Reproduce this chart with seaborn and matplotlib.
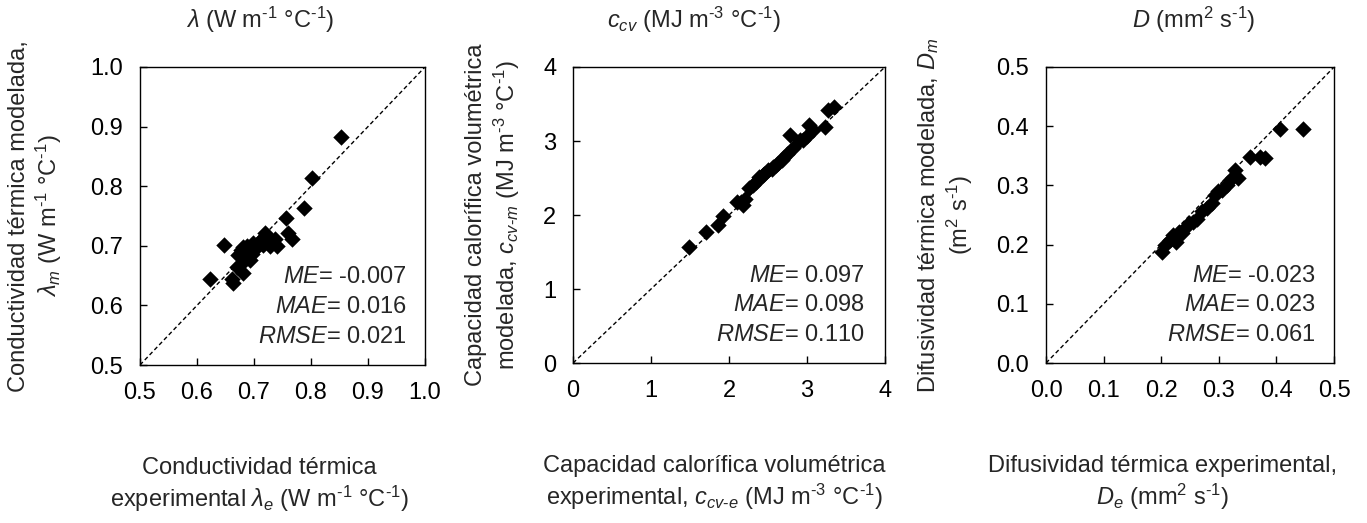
import pandas as pd
import matplotlib
matplotlib.use("Agg")
import matplotlib.pyplot as plt
import seaborn as sns

# Conductividad térmica (W m-1 °C-1): experimental vs modelada
lam_exp = [0.623, 0.648, 0.664, 0.662, 0.670, 0.681, 0.676, 0.672, 0.678, 0.680,
           0.687, 0.690, 0.693, 0.696, 0.700, 0.703, 0.705, 0.708, 0.712, 0.714,
           0.716, 0.719, 0.722, 0.725, 0.728, 0.732, 0.740, 0.736, 0.757, 0.760,
           0.766, 0.787, 0.801, 0.852, 0.685, 0.698]
lam_mod = [0.645, 0.701, 0.637, 0.645, 0.665, 0.654, 0.668, 0.685, 0.693, 0.698,
           0.699, 0.688, 0.676, 0.687, 0.693, 0.700, 0.699, 0.706, 0.710, 0.710,
           0.702, 0.721, 0.715, 0.712, 0.699, 0.706, 0.699, 0.712, 0.746, 0.721,
           0.711, 0.764, 0.813, 0.882, 0.683, 0.705]

# Capacidad calorífica volumétrica (MJ m-3 °C-1)
ccv_exp = [1.49, 1.70, 1.86, 1.92, 2.10, 2.18, 2.15, 2.20, 2.25, 2.31, 2.35, 2.38,
           2.44, 2.45, 2.50, 2.55, 2.57, 2.60, 2.63, 2.68, 2.70, 2.74, 2.78, 2.82,
           2.91, 2.95, 3.00, 3.02, 3.08, 3.23, 3.27, 3.34]
ccv_mod = [1.57, 1.77, 1.86, 1.99, 2.17, 2.13, 2.18, 2.22, 2.36, 2.40, 2.45, 2.52,
           2.54, 2.55, 2.61, 2.62, 2.65, 2.67, 2.70, 2.74, 2.78, 2.83, 3.08, 2.90,
           3.01, 3.02, 3.07, 3.22, 3.15, 3.19, 3.42, 3.46]

# Difusividad térmica (mm2 s-1)
dif_exp = [0.201, 0.207, 0.215, 0.221, 0.227, 0.230, 0.236, 0.239, 0.256, 0.262,
           0.270, 0.279, 0.288, 0.293, 0.305, 0.314, 0.319, 0.328, 0.334, 0.354,
           0.372, 0.380, 0.407, 0.446, 0.225, 0.248, 0.298]
dif_mod = [0.188, 0.200, 0.208, 0.216, 0.213, 0.222, 0.219, 0.227, 0.238, 0.244,
           0.256, 0.261, 0.270, 0.284, 0.292, 0.301, 0.309, 0.326, 0.312, 0.348,
           0.348, 0.347, 0.396, 0.395, 0.205, 0.236, 0.290]

stats = [("-0.007", "0.016", "0.021"), ("0.097", "0.098", "0.110"), ("-0.023", "0.023", "0.061")]

FS = 17

sns.set_style("ticks")
plt.rcParams["font.family"] = ["Liberation Sans", "DejaVu Sans"]
plt.rcParams["mathtext.fontset"] = "custom"
plt.rcParams["mathtext.rm"] = "Liberation Sans"
plt.rcParams["mathtext.it"] = "Liberation Sans:italic"
plt.rcParams["font.size"] = FS

fig = plt.figure(figsize=(13.67, 5.23), dpi=100)

m1 = r"m$^{\text{-1}}$ °C$^{\text{-1}}$"
m3 = r"m$^{\text{-3}}$ °C$^{\text{-1}}$"
s1 = r"$^{\text{2}}$ s$^{\text{-1}}$"

panels = [
    dict(x=lam_exp, y=lam_mod, lim=(0.5, 1.0), ticks=[0.5, 0.6, 0.7, 0.8, 0.9, 1.0], fmt="{:.1f}",
         pos=[0.1024, 0.3021, 0.2085, 0.5698],
         title=r"$\lambda$ (W " + m1 + ")", tx=0.190,
         ylabel="Conductividad térmica modelada,\n" + r"$\lambda_m$ (W " + m1 + ")", ylx=-0.265,
         xlabel="Conductividad térmica\nexperimental " + r"$\lambda_e$ (W " + m1 + ")", xlx=0.42),
    dict(x=ccv_exp, y=ccv_mod, lim=(0, 4), ticks=[0, 1, 2, 3, 4], fmt="{:.0f}",
         pos=[0.4192, 0.3059, 0.2282, 0.566],
         title=r"$c_{cv}$ (MJ " + m3 + ")", tx=0.508,
         ylabel="Capacidad calorífica volumétrica\nmodelada, " + r"$c_{cv\text{-}m}$ (MJ " + m3 + ")", ylx=-0.165,
         xlabel="Capacidad calorífica volumétrica\nexperimental, " + r"$c_{cv\text{-}e}$ (MJ " + m3 + ")", xlx=0.452),
    dict(x=dif_exp, y=dif_mod, lim=(0.0, 0.5), ticks=[0.0, 0.1, 0.2, 0.3, 0.4, 0.5], fmt="{:.1f}",
         pos=[0.7652, 0.3059, 0.2107, 0.566],
         title=r"$D$ (mm" + s1 + ")", tx=0.873,
         ylabel="Difusividad térmica modelada, " + r"$D_m$" + "\n(m" + s1 + ")", ylx=-0.245,
         xlabel="Difusividad térmica experimental,\n" + r"$D_e$ (mm" + s1 + ")", xlx=0.406),
]

for p, st in zip(panels, stats):
    ax = fig.add_axes(p["pos"])
    df = pd.DataFrame({"exp": p["x"], "mod": p["y"]})
    lo, hi = p["lim"]
    ax.plot([lo, hi], [lo, hi], ls=(0, (3, 2)), color="black", lw=1, zorder=1)
    sns.scatterplot(data=df, x="exp", y="mod", marker="D", color="black",
                    s=70, linewidth=0, ax=ax, zorder=2)
    ax.set_xlim(lo, hi)
    ax.set_ylim(lo, hi)
    ax.set_xticks(p["ticks"])
    ax.set_yticks(p["ticks"])
    ax.set_xticklabels([p["fmt"].format(t) for t in p["ticks"]])
    ax.set_yticklabels([p["fmt"].format(t) for t in p["ticks"]])
    ax.tick_params(direction="in", length=5, width=1, pad=12, labelsize=FS, colors="black")
    for sp in ax.spines.values():
        sp.set_visible(True)
        sp.set_linewidth(1)
        sp.set_color("black")

    ax.set_ylabel(p["ylabel"], fontsize=FS, multialignment="center")
    ax.yaxis.set_label_coords(p["ylx"], 0.5)
    ax.set_xlabel(p["xlabel"], fontsize=FS, multialignment="center")
    ax.xaxis.set_label_coords(p["xlx"], -0.31)

    for yy, name, val in zip([0.295, 0.195, 0.095], ["ME", "MAE", "RMSE"], st):
        ax.text(0.935, yy, r"$" + name + r"$= " + val, transform=ax.transAxes,
                ha="right", va="center", fontsize=FS)

    fig.text(p["tx"], 0.962, p["title"], ha="center", va="center", fontsize=FS)

fig.savefig("out.png", dpi=100)
